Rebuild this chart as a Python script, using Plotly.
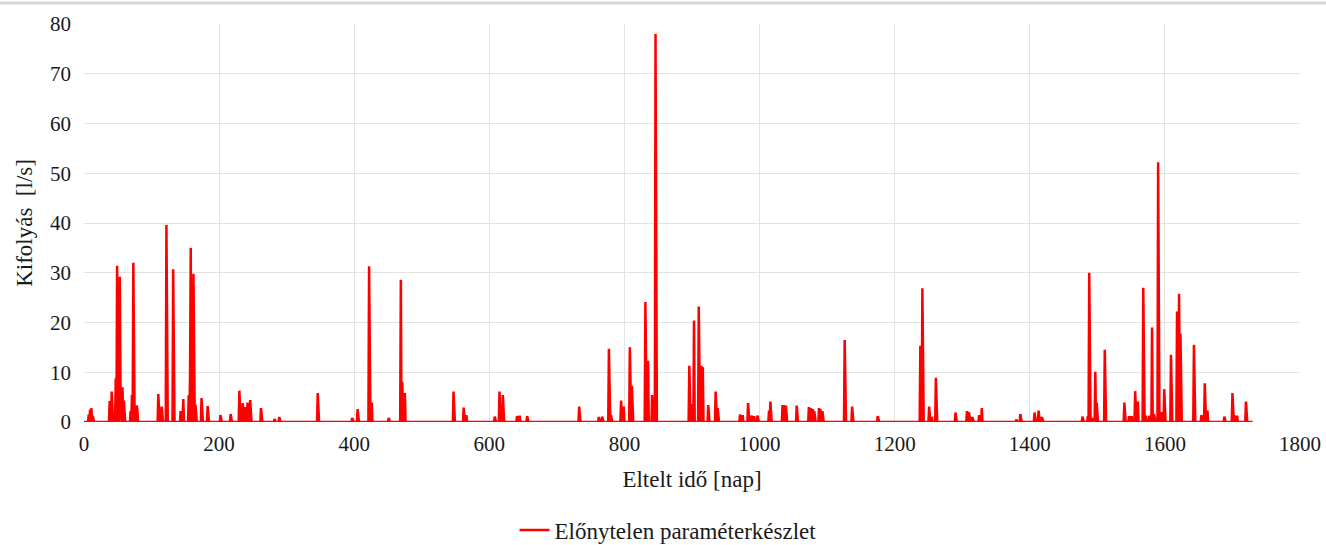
import plotly.graph_objects as go

# Spike events (day, discharge l/s); baseline is 0 elsewhere
spike_days = [7, 9, 11, 13, 38, 41, 47, 49, 50, 53, 54, 57, 59, 69, 71, 73, 78, 79,
              110, 115, 122, 132, 143, 147, 155, 157, 158, 162, 165, 174, 183,
              202, 217, 230, 235, 238, 242, 246, 262, 282, 289,
              346, 397, 405, 422, 426, 451, 469, 471, 475, 547, 562, 566,
              608, 615, 620, 641, 645, 656, 733, 762, 767, 777, 780, 795, 799,
              808, 811, 831, 835, 841, 846,
              896, 899, 903, 910, 914, 916, 924, 935, 938, 971, 975, 983, 988, 992, 997,
              1014, 1016, 1034, 1036, 1039, 1055, 1073, 1076, 1079, 1081, 1088, 1090, 1093,
              1126, 1137, 1175, 1238, 1241, 1251, 1255, 1261, 1290, 1307, 1310, 1315,
              1325, 1329, 1380, 1386, 1407, 1413, 1418,
              1478, 1486, 1488, 1492, 1497, 1499, 1511, 1540, 1547, 1551, 1556, 1560,
              1568, 1572, 1577, 1581, 1584, 1590, 1594, 1596, 1599, 1609, 1618, 1621,
              1623, 1624, 1643, 1654, 1659, 1663, 1688, 1700, 1703, 1707, 1720]
spike_values = [1.5, 2.5, 2.8, 1.2, 4.2, 6.1, 8.8, 31.4, 12.0, 29.2, 7.5, 7.0, 4.3, 2.2, 5.4, 32.0, 3.3, 2.5,
                5.6, 3.1, 39.6, 30.7, 2.2, 4.6, 5.4, 9.8, 35.0, 29.8, 3.5, 4.8, 3.2,
                1.4, 1.6, 6.3, 3.8, 3.0, 3.9, 4.4, 2.8, 0.6, 1.0,
                5.8, 0.8, 2.6, 31.3, 3.9, 0.8, 28.6, 8.1, 5.8, 6.1, 2.9, 1.4,
                1.1, 6.1, 5.4, 1.2, 1.3, 1.2, 3.1, 1.0, 1.1, 14.7, 1.4, 4.3, 3.1,
                15.0, 7.3, 24.1, 12.3, 5.4, 78.0,
                11.3, 3.6, 20.4, 23.2, 11.3, 11.0, 3.4, 6.1, 2.8, 1.5, 1.4, 3.8, 1.3, 1.2, 1.3,
                2.3, 4.1, 3.4, 3.4, 3.3, 3.3, 3.0, 2.8, 2.6, 2.2, 2.8, 2.6, 2.2,
                16.5, 3.1, 1.2, 15.3, 26.9, 3.1, 1.0, 8.9, 1.9, 2.2, 2.0, 1.0,
                1.4, 2.8, 0.5, 1.6, 1.9, 2.3, 1.0,
                1.1, 1.2, 30.0, 0.8, 10.1, 3.9, 14.5, 3.9, 1.2, 1.2, 6.2, 4.1,
                27.0, 1.3, 1.3, 19.0, 1.6, 52.2, 1.9, 2.0, 6.6, 13.5, 22.2, 25.8,
                17.8, 4.8, 15.5, 1.4, 7.8, 2.3, 1.1, 5.8, 1.3, 1.3, 4.1]
last_day = 1730

x_ticks = [0, 200, 400, 600, 800, 1000, 1200, 1400, 1600, 1800]
y_ticks = [0, 10, 20, 30, 40, 50, 60, 70, 80]

days = list(range(0, last_day + 1))
flow = [0.0] * len(days)
for d, v in zip(spike_days, spike_values):
    flow[d] = v

font_family = "Liberation Serif, Times New Roman, serif"
FS_TICK = 21
FS_TITLE = 23

fig = go.Figure()
fig.add_trace(go.Scatter(
    x=days, y=flow, mode="lines",
    line=dict(color="#FF0000", width=2.5),
    name="Előnytelen paraméterkészlet",
))

fig.update_layout(
    width=1326, height=545,
    margin=dict(l=84, r=26, t=24, b=123),
    paper_bgcolor="white", plot_bgcolor="white",
    font=dict(family=font_family, size=FS_TICK, color="#1a1a1a"),
    showlegend=True,
    legend=dict(orientation="h", xref="container", yref="container",
                x=0.5 + 5/1326, xanchor="center", y=1 - 530/545, yanchor="middle",
                font=dict(family=font_family, size=FS_TITLE, color="#1a1a1a")),
    xaxis=dict(
        range=[0, 1800], tickvals=x_ticks, showgrid=True, gridcolor="#E3E3E3", gridwidth=1,
        zeroline=False, showline=False, ticks="", automargin=False, ticklabelstandoff=7,
        tickfont=dict(family=font_family, size=FS_TICK),
        title=dict(text="Eltelt idő [nap]", font=dict(family=font_family, size=FS_TITLE), standoff=15),
    ),
    yaxis=dict(
        range=[0, 80], tickvals=y_ticks, showgrid=True, gridcolor="#E3E3E3", gridwidth=1,
        zeroline=False, showline=False, ticks="", automargin=False, ticklabelstandoff=12,
        tickfont=dict(family=font_family, size=FS_TICK),
        title=dict(text="Kifolyás  [l/s]", font=dict(family=font_family, size=FS_TITLE), standoff=10),
    ),
)

# light frame line at the very top of the image
fig.add_shape(type="line", xref="paper", yref="paper", x0=-84/1216, x1=1 + 26/1216,
              y0=1 + 21/398, y1=1 + 21/398, line=dict(color="#D5D5D5", width=3))

fig.write_html(
    "out.html",
    config={"displayModeBar": False},
    post_script="document.body.style.margin='0px';document.body.style.overflow='hidden';",
)
